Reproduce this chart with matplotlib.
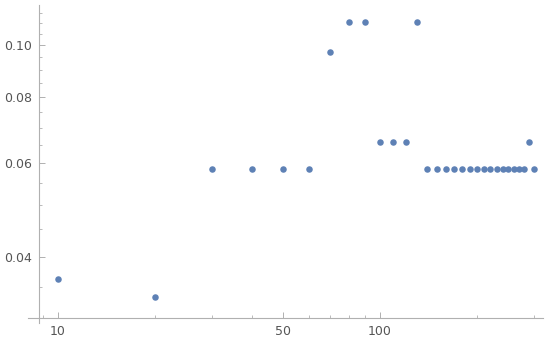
import matplotlib
matplotlib.use("Agg")
import matplotlib.pyplot as plt
from matplotlib.ticker import FixedLocator, NullFormatter, FixedFormatter
import numpy as np

x_vals = [10, 20, 30, 40, 50, 60, 70, 80, 90, 100, 110, 120, 130,
          140, 150, 160, 170, 180, 190, 200, 210, 220, 230, 240, 250,
          260, 270, 280, 290, 300]
y_vals = [0.0363, 0.0336, 0.0586, 0.0586, 0.0586, 0.0586, 0.0970, 0.1105,
          0.1105, 0.0657, 0.0657, 0.0657, 0.1105,
          0.0586, 0.0586, 0.0586, 0.0586, 0.0586, 0.0586, 0.0586, 0.0586,
          0.0586, 0.0586, 0.0586, 0.0586, 0.0586, 0.0586, 0.0586, 0.0657,
          0.0586]

x_major = [10, 50, 100]
x_major_labels = ["10", "50", "100"]
x_minor = [9, 20, 30, 40, 60, 70, 80, 90, 200, 300]
y_major = [0.04, 0.06, 0.08, 0.10]
y_major_labels = ["0.04", "0.06", "0.08", "0.10"]
y_minor = [0.035, 0.045, 0.05, 0.055, 0.065, 0.07, 0.075, 0.085, 0.09,
           0.095, 0.105, 0.11, 0.115]

axis_col = "#b0b0b0"
text_col = "#555555"
pt_col = "#5e81b5"

fig = plt.figure(figsize=(5.5, 3.44), dpi=100)
ax = fig.add_axes([28/550, 21/344, 515/550, 318/344])
ax.set_xscale("log")
ax.set_yscale("log")
ax.set_xlim(8.07, 320.6)
ax.set_ylim(0.0300, 0.1191)

ax.scatter(x_vals, y_vals, s=22, color=pt_col, zorder=3, linewidths=0)

for s in ["top", "right"]:
    ax.spines[s].set_visible(False)
ax.spines["left"].set_position(("data", 8.73))
ax.spines["bottom"].set_position(("data", 0.0306))
for s in ["left", "bottom"]:
    ax.spines[s].set_color(axis_col)
    ax.spines[s].set_linewidth(0.8)

ax.xaxis.set_major_locator(FixedLocator(x_major))
ax.xaxis.set_major_formatter(FixedFormatter(x_major_labels))
ax.xaxis.set_minor_locator(FixedLocator(x_minor))
ax.xaxis.set_minor_formatter(NullFormatter())
ax.yaxis.set_major_locator(FixedLocator(y_major))
ax.yaxis.set_major_formatter(FixedFormatter(y_major_labels))
ax.yaxis.set_minor_locator(FixedLocator(y_minor))
ax.yaxis.set_minor_formatter(NullFormatter())

ax.tick_params(which="major", direction="in", length=4, width=0.7,
               color=axis_col, labelcolor=text_col, labelsize=9, pad=5)
ax.tick_params(which="minor", direction="in", length=2.2, width=0.6,
               color=axis_col)
ax.patch.set_alpha(0)

fig.savefig("out.png", dpi=100)
